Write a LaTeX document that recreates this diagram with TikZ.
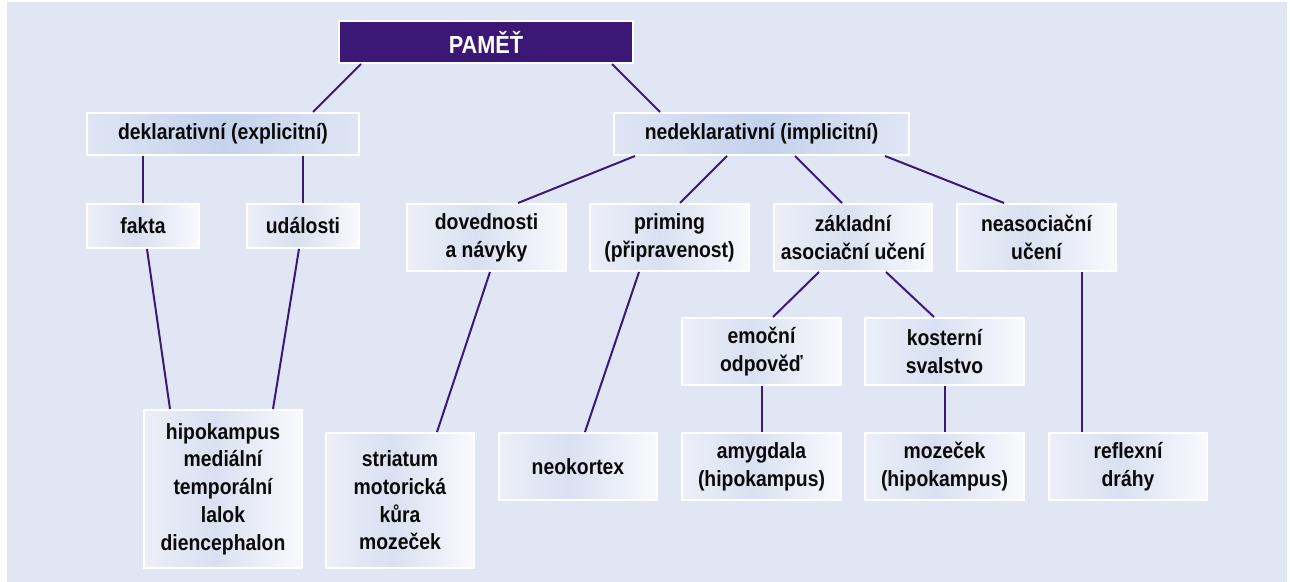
\documentclass[tikz,border=0pt]{standalone}
\usepackage{fontspec}
\setmainfont{Liberation Sans}[FakeStretch=0.88]
\usetikzlibrary{calc}
\definecolor{bgc}{HTML}{E0E6F4}
\definecolor{lnc}{HTML}{3A1A78}
\definecolor{topc}{HTML}{3C1876}
\definecolor{lvA}{HTML}{DFE5F4}
\definecolor{lvB}{HTML}{C4D2EC}
\definecolor{lbA}{HTML}{ECEFF9}
\definecolor{lbB}{HTML}{D9E0F1}
\definecolor{lbC}{HTML}{F9FAFD}
\definecolor{txc}{HTML}{0A0A0A}
\pgfdeclarehorizontalshading{lowbox}{100bp}{color(0bp)=(lbA); color(25bp)=(lbA); color(47bp)=(lbB); color(75bp)=(lbC); color(100bp)=(lbC)}
\tikzset{
  wh/.style 2 args={minimum width=#1*0.75pt-1.5pt, minimum height=#2*0.75pt-1.5pt},
  basebox/.style={draw=white, line width=1.5pt, inner sep=0pt, align=center,
    text=txc, font=\fontsize{16.5}{20.8}\selectfont\bfseries},
  topbox/.style={basebox, fill=topc, text=white, font=\fontsize{18.5}{22}\selectfont\bfseries},
  midbox/.style={basebox, left color=lvA, right color=lvA, middle color=lvB},
  lowb/.style={basebox, shading=lowbox},
  conn/.style={draw=lnc, line width=1.5pt}
}
\begin{document}
\begin{tikzpicture}[x=0.75pt, y=-0.75pt]
\useasboundingbox (0,0) rectangle (1290,582);
\fill[white] (0,0) rectangle (1290,582);
\fill[bgc] (7,2) rectangle (1287,582);

\node[topbox, wh={296}{44}] (pamet) at (486,42) {PAMĚŤ};
\node[midbox, wh={274}{44}] (dekl) at (223,134) {deklarativní (explicitní)};
\node[midbox, wh={297}{44}] (nedekl) at (761.5,134) {nedeklarativní (implicitní)};

\node[lowb, wh={114}{46}] (fakta) at (143,226) {fakta};
\node[lowb, wh={114}{46}] (udal) at (303,226) {události};
\node[lowb, wh={160}{160}] (hipo) at (223,489) {hipokampus\\mediální\\temporální\\lalok\\diencephalon};

\node[lowb, wh={161}{69}] (dov) at (486.5,237.5) {dovednosti\\a návyky};
\node[lowb, wh={161}{69}] (prim) at (669.5,237.5) {priming\\(připravenost)};
\node[lowb, wh={160}{69}] (zakl) at (853,237.5) {základní\\asociační učení};
\node[lowb, wh={161}{69}] (neas) at (1036.5,237.5) {neasociační\\učení};

\node[lowb, wh={161}{69}] (emo) at (761.5,351.5) {emoční\\odpověď};
\node[lowb, wh={161}{69}] (kost) at (944.5,351.5) {kosterní\\svalstvo};

\node[lowb, wh={150}{137}] (stri) at (400,500.5) {striatum\\motorická\\kůra\\mozeček};
\node[lowb, wh={160}{69}] (neo) at (578,466.5) {neokortex};
\node[lowb, wh={161}{69}] (amyg) at (761.5,466.5) {amygdala\\(hipokampus)};
\node[lowb, wh={161}{69}] (moz) at (944.5,466.5) {mozeček\\(hipokampus)};
\node[lowb, wh={160}{69}] (refl) at (1128,466.5) {reflexní\\dráhy};

\draw[conn] ($(pamet.south west)+(23,0)$) -- ($(dekl.north west)+(227,0)$);
\draw[conn] ($(pamet.south west)+(274,0)$) -- ($(nedekl.north west)+(47,0)$);
\draw[conn] ($(dekl.south west)+(57,0)$) -- (fakta.north);
\draw[conn] ($(dekl.south west)+(217,0)$) -- (udal.north);
\draw[conn] ($(fakta.south west)+(61,0)$) -- ($(hipo.north west)+(27,0)$);
\draw[conn] ($(udal.south west)+(53,0)$) -- ($(hipo.north west)+(130,0)$);
\draw[conn] ($(nedekl.south west)+(22,0)$) -- ($(dov.north west)+(112,0)$);
\draw[conn] ($(nedekl.south west)+(114,0)$) -- ($(prim.north west)+(91,0)$);
\draw[conn] ($(nedekl.south west)+(182,0)$) -- ($(zakl.north west)+(69,0)$);
\draw[conn] ($(nedekl.south west)+(272,0)$) -- ($(neas.north west)+(48,0)$);
\draw[conn] ($(dov.south west)+(84,0)$) -- ($(stri.north west)+(112,0)$);
\draw[conn] ($(prim.south west)+(50,0)$) -- ($(neo.north west)+(87,0)$);
\draw[conn] ($(zakl.south west)+(46,0)$) -- ($(emo.north west)+(92,0)$);
\draw[conn] ($(zakl.south west)+(113,0)$) -- ($(kost.north west)+(70,0)$);
\draw[conn] ($(emo.south west)+(81,0)$) -- ($(amyg.north west)+(81,0)$);
\draw[conn] ($(kost.south west)+(81,0)$) -- ($(moz.north west)+(81,0)$);
\draw[conn] ($(neas.south west)+(126,0)$) -- ($(refl.north west)+(34,0)$);
\end{tikzpicture}
\end{document}
